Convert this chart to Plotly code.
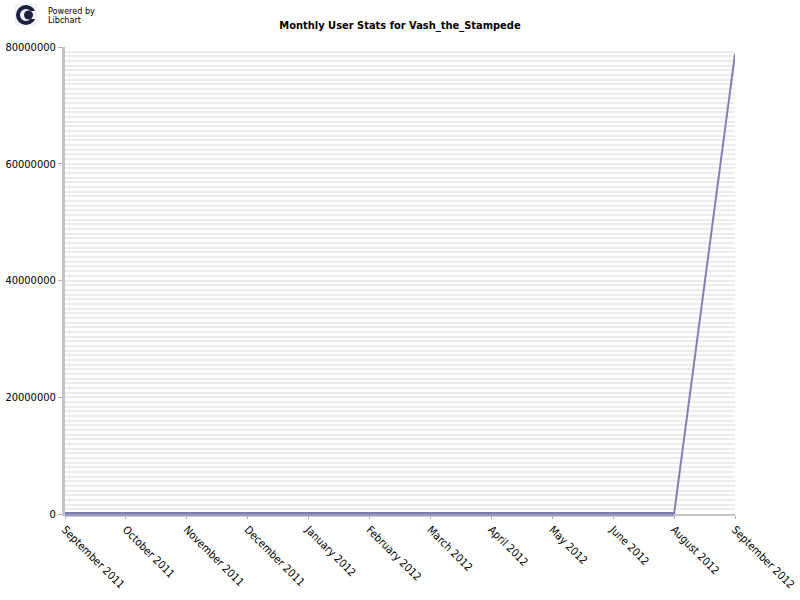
import plotly.graph_objects as go

months = ["September 2011", "October 2011", "November 2011", "December 2011",
          "January 2012", "February 2012", "March 2012", "April 2012",
          "May 2012", "June 2012", "August 2012", "September 2012"]
users = [0, 0, 0, 0, 0, 0, 0, 0, 0, 0, 0, 78800000]
y_ticks = [0, 20000000, 40000000, 60000000, 80000000]

W, H = 800, 600
ML, MT = 65, 47
PW, PH = 670, 467
MR, MB = W - ML - PW, H - MT - PH

def px(x):
    return (x - ML) / PW

def py(y):
    return (H - MB - y) / PH

FONT = "DejaVu Sans Condensed, DejaVu Sans, sans-serif"

fig = go.Figure()
fig.add_trace(go.Scatter(
    x=months, y=users, mode="lines",
    line=dict(color="#8282b2", width=2),
    cliponaxis=False, showlegend=False, hoverinfo="x+y"))

shapes = [
    # thick baseline look of the flat segment
    dict(type="rect", xref="paper", yref="paper", x0=0, x1=px(674), y0=py(516.5), y1=py(512),
         fillcolor="#9898c2", line=dict(width=0), layer="above"),
    dict(type="rect", xref="paper", yref="paper", x0=0, x1=px(674), y0=py(514), y1=py(512),
         fillcolor="#7c7caa", line=dict(width=0), layer="above"),
    # logo
    dict(type="rect", xref="paper", yref="paper", x0=px(15), x1=px(37), y0=py(26), y1=py(4),
         fillcolor="#f2f2f4", line=dict(width=0), layer="above"),
    dict(type="circle", xref="paper", yref="paper", x0=px(18), x1=px(34), y0=py(23), y1=py(7),
         fillcolor="rgba(0,0,0,0)", line=dict(color="#1c2040", width=4), layer="above"),
    dict(type="rect", xref="paper", yref="paper", x0=px(30), x1=px(37), y0=py(19), y1=py(11),
         fillcolor="#f2f2f4", line=dict(width=0), layer="above"),
    dict(type="circle", xref="paper", yref="paper", x0=px(24), x1=px(33), y0=py(19.5), y1=py(10.5),
         fillcolor="#1c2040", line=dict(width=0), layer="above"),
]

annotations = [
    dict(text="Powered by", xref="paper", yref="paper", x=px(46), y=py(11), xanchor="left",
         yanchor="middle", showarrow=False, font=dict(family=FONT, size=9, color="#000")),
    dict(text="Libchart", xref="paper", yref="paper", x=px(46), y=py(20), xanchor="left",
         yanchor="middle", showarrow=False, font=dict(family=FONT, size=9, color="#000")),
]

fig.update_layout(
    width=W, height=H,
    margin=dict(l=ML, r=MR, t=MT, b=MB, pad=0, autoexpand=False),
    paper_bgcolor="white", plot_bgcolor="white",
    font=dict(family=FONT, size=11, color="#000"),
    title=dict(text="<b>Monthly User Stats for Vash_the_Stampede</b>", x=px(400), xanchor="center",
               y=1 - 25 / H, yanchor="middle", font=dict(family=FONT, size=11, color="#000")),
    shapes=shapes, annotations=annotations,
    xaxis=dict(type="category", categoryorder="array", categoryarray=months, automargin=False,
               range=[0, len(months) - 1], tickangle=45, showgrid=False, zeroline=False,
               showline=True, linecolor="#c4c4c4", linewidth=2, ticks="outside", ticklen=3,
               tickcolor="#b0b0b0", tickfont=dict(family=FONT, size=11, color="#000")),
    yaxis=dict(range=[0, 80000000], tickvals=y_ticks, tickformat="d", automargin=False,
               showgrid=False, zeroline=False,
               showline=True, linecolor="#c4c4c4", linewidth=3, ticks="outside", ticklen=4,
               tickcolor="#b0b0b0", tickfont=dict(family=FONT, size=11, color="#000"),
               minor=dict(dtick=800000, showgrid=True, gridcolor="#ececec", gridwidth=2, ticks="")),
)

fig.write_html("out.html", config={"displayModeBar": False},
               post_script="document.body.style.margin='0px';")
